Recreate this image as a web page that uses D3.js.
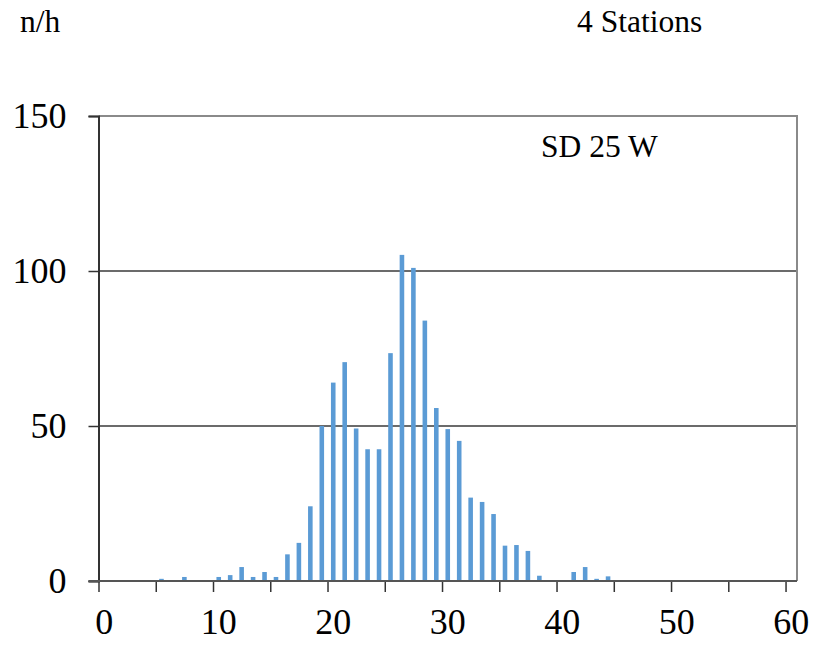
<!DOCTYPE html>
<html>
<head>
<meta charset="utf-8">
<script src="https://cdn.jsdelivr.net/npm/d3@7"></script>
<style>
	body { margin: 0; background: #fff; }
</style>
</head>
<body>
<div id="chart"></div>
<script>
// categories along the x axis (one per integer 0..60)
var categories = d3.range(0, 61);
// counts per hour for each category
var counts = [
	0, 0, 0, 0, 0, 0.7, 0.3, 1.3, 0, 0,
	1.3, 1.9, 4.5, 1.3, 2.9, 1.3, 8.6, 12.3, 24.1, 50,
	64, 70.6, 49.2, 42.5, 42.5, 73.5, 105.2, 101, 84, 55.8,
	49, 45.2, 26.9, 25.5, 21.6, 11.4, 11.6, 9.7, 1.7, 0,
	0, 2.9, 4.5, 0.7, 1.5, 0, 0, 0, 0.3, 0,
	0, 0, 0, 0, 0, 0, 0, 0, 0, 0,
	0
];
var yTicks = [0, 50, 100, 150];
var xMinorTicks = [0, 5, 10, 15, 20, 25, 30, 35, 40, 45, 50, 55, 60];
var xLabels = [0, 10, 20, 30, 40, 50, 60];

var yLabel = "n/h",
	topTitle = "4 Stations",
	seriesName = "SD 25 W";

var serif = "Liberation Serif, Times New Roman, serif";

var data = categories.map(function(c, i) { return { cat: c, value: counts[i] }; });

//
// Set up
//
var _width = 829, _height = 648;
var plot = { left: 98.5, right: 797, top: 116, bottom: 581 };

var svg = d3.select("#chart").append("svg")
	.attr("width", _width)
	.attr("height", _height);

svg.append("rect")
	.attr("width", _width)
	.attr("height", _height)
	.attr("fill", "#fff");

var x = d3.scaleBand()
	.domain(categories)
	.range([plot.left, plot.right])
	.paddingInner(0.6)
	.paddingOuter(0.3);

// edges of the categories, for the tick marks
var xEdge = d3.scaleLinear()
	.domain([0, categories.length])
	.range([plot.left, plot.right]);

var y = d3.scaleLinear()
	.domain([0, 150])
	.range([plot.bottom, plot.top]);

// Gridlines
svg.selectAll("line.grid")
	.data(yTicks.filter(function(t) { return t > 0 && t < 150; }))
	.enter()
	.append("line")
	.attr("class", "grid")
	.attr("x1", plot.left)
	.attr("x2", plot.right)
	.attr("y1", function(d) { return y(d); })
	.attr("y2", function(d) { return y(d); })
	.attr("stroke", "#3a3a3a")
	.attr("stroke-width", 1.3);

// Plot border (top and right)
svg.append("path")
	.attr("d", "M" + plot.left + "," + plot.top + "H" + plot.right + "V" + plot.bottom)
	.attr("fill", "none")
	.attr("stroke", "#8a8a8a")
	.attr("stroke-width", 2);

// Bars
svg.selectAll("rect.bar")
	.data(data)
	.enter()
	.append("rect")
	.attr("class", "bar")
	.attr("x", function(d) { return x(d.cat); })
	.attr("width", x.bandwidth())
	.attr("y", function(d) { return y(d.value); })
	.attr("height", function(d) { return y(0) - y(d.value); })
	.attr("fill", "#5b9bd5");

// Y axis
var yAxis = svg.append("g")
	.attr("transform", "translate(" + plot.left + ",0)")
	.call(d3.axisLeft(y).tickValues(yTicks).tickSize(10).tickPadding(22));
yAxis.select(".domain").attr("stroke", "#333").attr("stroke-width", 2);
yAxis.selectAll(".tick line").attr("stroke", "#333").attr("stroke-width", 1.5);
yAxis.selectAll(".tick text")
	.attr("font-size", 36)
	.attr("font-family", serif)
	.attr("fill", "#000")
	.attr("dy", "0.33em");

// X axis: tick marks at category edges
var xAxis = svg.append("g")
	.attr("transform", "translate(0," + plot.bottom + ")")
	.call(d3.axisBottom(xEdge).tickValues(xMinorTicks).tickSize(11).tickFormat(""));
xAxis.select(".domain").remove();
xAxis.selectAll(".tick line").attr("stroke", "#333").attr("stroke-width", 1.5);

svg.append("line")
	.attr("x1", plot.left - 10)
	.attr("x2", plot.right)
	.attr("y1", plot.bottom)
	.attr("y2", plot.bottom)
	.attr("stroke", "#555")
	.attr("stroke-width", 2);

// X labels at category centres
var xText = svg.append("g")
	.attr("transform", "translate(0," + plot.bottom + ")")
	.call(d3.axisBottom(x).tickValues(xLabels).tickSize(0).tickPadding(27));
xText.select(".domain").remove();
xText.selectAll(".tick text")
	.attr("font-size", 36)
	.attr("font-family", serif)
	.attr("fill", "#000");

// Titles
svg.append("text")
	.attr("x", 20)
	.attr("y", 32)
	.attr("font-size", 31.5)
	.attr("font-family", serif)
	.text(yLabel);

svg.append("text")
	.attr("x", 577)
	.attr("y", 32)
	.attr("font-size", 31.5)
	.attr("font-family", serif)
	.text(topTitle);

svg.append("text")
	.attr("x", 541)
	.attr("y", 157)
	.attr("font-size", 31.5)
	.attr("font-family", serif)
	.text(seriesName);
</script>
</body>
</html>
